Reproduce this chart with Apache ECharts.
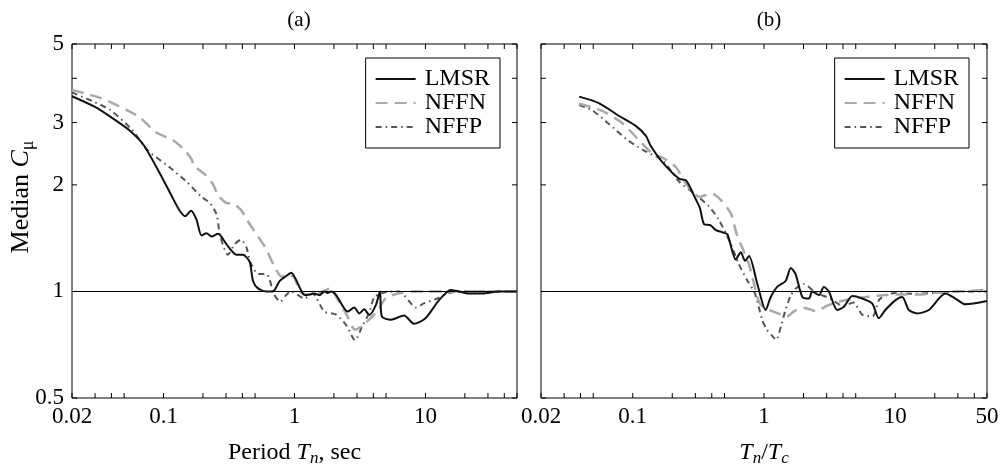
<!DOCTYPE html>
<html><head><meta charset="utf-8">
<script src="https://cdn.jsdelivr.net/npm/echarts@6/dist/echarts.min.js"></script>
<style>html,body{margin:0;padding:0;background:#fff}#c{width:1006px;height:472px}</style>
</head><body><div id="c"></div>
<script>
const FONT = '"Liberation Serif","Times New Roman",serif';
const seriesNames = ['LMSR', 'NFFN', 'NFFP'];
const panelTitles = ['(a)', '(b)'];
const X_MIN = 0.02, X_MAX = 50, Y_MIN = 0.5, Y_MAX = 5, REF_VALUE = 1;
const xTickValues = [0.02, 0.03, 0.04, 0.05, 0.1, 0.2, 0.3, 0.4, 0.5, 1, 2, 3, 4, 5, 10, 20, 30, 40, 50];
const yTickValues = [0.5, 1, 2, 3, 4, 5];
const xLabelsA = ['0.02', '0.1', '1', '10'];
const xLabelValuesA = [0.02, 0.1, 1, 10];
const xLabelsB = ['0.02', '0.1', '1', '10', '50'];
const xLabelValuesB = [0.02, 0.1, 1, 10, 50];
const yLabels = ['0.5', '1', '2', '3', '5'];
const yLabelValues = [0.5, 1, 2, 3, 5];

// Panel (a): period Tn (sec)
const lmsrA_x = [0.02, 0.03, 0.04, 0.055, 0.07, 0.094, 0.119, 0.133, 0.146, 0.162, 0.178, 0.195, 0.213, 0.232, 0.261, 0.302, 0.36, 0.404, 0.455, 0.482, 0.526, 0.609, 0.684, 0.769, 0.85, 0.944, 1.09, 1.16, 1.23, 1.42, 1.55, 1.69, 1.79, 1.90, 2.08, 2.55, 2.86, 3.12, 3.41, 3.72, 4.18, 4.49, 4.65, 5.45, 6.87, 8.18, 10.0, 12.7, 15.6, 18.0, 21.4, 27.1, 36.5, 50];
const lmsrA_y = [3.56, 3.32, 3.10, 2.85, 2.60, 2.15, 1.82, 1.69, 1.63, 1.69, 1.60, 1.44, 1.46, 1.43, 1.455, 1.36, 1.27, 1.27, 1.21, 1.07, 1.02, 1.0, 1.0, 1.07, 1.10, 1.13, 1.03, 0.986, 0.976, 0.986, 0.976, 1.0, 0.99, 1.0, 0.976, 0.877, 0.901, 0.867, 0.89, 0.858, 0.915, 1.0, 0.849, 0.832, 0.855, 0.81, 0.84, 0.945, 1.01, 1.0, 0.986, 0.986, 1.0, 1.0];
const nffnA_x = [0.02, 0.033, 0.052, 0.066, 0.088, 0.119, 0.141, 0.163, 0.17, 0.21, 0.24, 0.26, 0.30, 0.34, 0.39, 0.43, 0.5, 0.6, 0.7, 0.8, 0.9, 1.0, 1.1, 1.2, 1.5, 1.9, 2.1, 2.5, 2.9, 3.3, 3.8, 4.3, 5.0, 6.5, 8, 10, 15, 20, 30, 50];
const nffnA_y = [3.71, 3.52, 3.26, 3.10, 2.81, 2.67, 2.53, 2.37, 2.27, 2.13, 2.0, 1.87, 1.78, 1.77, 1.70, 1.60, 1.47, 1.33, 1.18, 1.10, 1.12, 1.09, 1.0, 0.98, 0.985, 1.02, 0.96, 0.86, 0.78, 0.80, 0.84, 0.88, 0.96, 0.99, 1.0, 1.0, 1.0, 1.0, 1.0, 1.0];
const nffpA_x = [0.02, 0.029, 0.039, 0.057, 0.076, 0.11, 0.15, 0.195, 0.225, 0.254, 0.27, 0.31, 0.35, 0.39, 0.43, 0.46, 0.53, 0.61, 0.7, 0.78, 0.85, 0.94, 1.05, 1.19, 1.37, 1.69, 2.08, 2.5, 2.9, 3.3, 3.7, 4.1, 5.3, 6.3, 8.5, 9.7, 12.3, 15, 20, 30, 50];
const nffpA_y = [3.65, 3.44, 3.26, 2.87, 2.5, 2.25, 2.04, 1.85, 1.78, 1.65, 1.44, 1.27, 1.36, 1.40, 1.33, 1.21, 1.12, 1.12, 0.98, 0.935, 0.97, 1.0, 0.98, 0.955, 0.986, 0.877, 0.86, 0.80, 0.728, 0.80, 0.867, 0.965, 1.0, 1.0, 0.90, 0.925, 0.955, 0.99, 1.0, 1.0, 1.0];

// Panel (b): Tn / Tc
const lmsrB_x = [0.039, 0.0556, 0.0788, 0.106, 0.126, 0.137, 0.168, 0.226, 0.254, 0.277, 0.30, 0.325, 0.349, 0.39, 0.43, 0.48, 0.526, 0.609, 0.665, 0.717, 0.769, 0.89, 1.03, 1.12, 1.26, 1.46, 1.60, 1.74, 1.96, 2.20, 2.33, 2.62, 2.86, 3.12, 3.61, 4.06, 4.70, 5.6, 6.67, 7.5, 8.4, 10.05, 11.3, 12.7, 14.7, 18.0, 24.1, 28.7, 34.3, 50];
const lmsrB_y = [3.55, 3.40, 3.13, 2.93, 2.75, 2.58, 2.32, 2.08, 2.06, 1.95, 1.83, 1.72, 1.55, 1.54, 1.49, 1.47, 1.45, 1.23, 1.29, 1.22, 1.26, 1.05, 0.886, 0.96, 1.03, 1.07, 1.165, 1.12, 0.965, 0.955, 1.0, 0.976, 1.03, 1.0, 0.886, 0.905, 0.97, 0.955, 0.925, 0.84, 0.886, 0.945, 0.965, 0.886, 0.867, 0.886, 0.986, 0.955, 0.92, 0.94];
const nffnB_x = [0.039, 0.059, 0.083, 0.112, 0.141, 0.168, 0.212, 0.254, 0.32, 0.40, 0.47, 0.56, 0.62, 0.70, 0.77, 0.84, 0.92, 1.0, 1.15, 1.35, 1.5, 1.7, 2.0, 2.5, 3.0, 3.5, 4.5, 6, 8, 10, 15, 20, 30, 50];
const nffnB_y = [3.39, 3.23, 2.99, 2.67, 2.45, 2.39, 2.25, 2.02, 1.85, 1.89, 1.81, 1.66, 1.45, 1.30, 1.19, 1.05, 0.93, 0.90, 0.88, 0.86, 0.85, 0.88, 0.90, 0.88, 0.91, 0.93, 0.95, 0.965, 0.975, 0.98, 0.98, 0.99, 1.0, 1.01];
const nffpB_x = [0.039, 0.049, 0.066, 0.091, 0.122, 0.17, 0.226, 0.294, 0.38, 0.45, 0.55, 0.64, 0.75, 0.85, 0.97, 1.05, 1.15, 1.24, 1.35, 1.45, 1.6, 1.75, 2.0, 2.5, 3.2, 4.0, 4.8, 5.6, 6.7, 7.6, 10, 13, 20, 30, 50];
const nffpB_y = [3.36, 3.25, 2.97, 2.68, 2.50, 2.34, 2.04, 1.89, 1.74, 1.60, 1.38, 1.20, 1.07, 0.99, 0.83, 0.78, 0.75, 0.73, 0.80, 0.88, 0.975, 1.02, 1.05, 0.99, 0.955, 0.91, 0.93, 0.86, 0.85, 0.95, 0.99, 0.985, 0.99, 1.0, 1.0];

const pair = (xs, ys) => xs.map((x, i) => [x, ys[i]]);
const TICK = 5;
const LABEL_FONT = '23px ' + FONT;

const styles = [
  { color: '#111111', width: 2, type: 'solid' },
  { color: '#a9a9a9', width: 2.5, type: [12, 7] },
  { color: '#555555', width: 2, type: [6, 4, 1.5, 4] }
];

function lineSeries(name, data, idx, styleIdx) {
  const s = styles[styleIdx];
  return {
    name: name, type: 'line', xAxisIndex: idx, yAxisIndex: idx,
    data: data, symbol: 'circle', symbolSize: 0, showSymbol: false, smooth: 0.25, z: 3 + (2 - styleIdx),
    lineStyle: { color: s.color, width: s.width, type: s.type },
    itemStyle: { color: s.color }
  };
}

function tickSeries(idx, xLabelVals, xLabelTxt, withY) {
  return [{
    type: 'custom', xAxisIndex: idx, yAxisIndex: idx, clip: false, silent: true, z: 1,
    data: xTickValues.map(v => [v, Y_MIN]),
    renderItem: function (params, api) {
      const v = api.value(0);
      const b = api.coord([v, Y_MIN]);
      const t = api.coord([v, Y_MAX]);
      return { type: 'group', children: [
        { type: 'line', shape: { x1: b[0], y1: b[1], x2: b[0], y2: b[1] - TICK }, style: { stroke: '#000', lineWidth: 1 } },
        { type: 'line', shape: { x1: t[0], y1: t[1], x2: t[0], y2: t[1] + TICK }, style: { stroke: '#000', lineWidth: 1 } }
      ] };
    },
    markLine: {
      silent: true, symbol: 'none', label: { show: false },
      lineStyle: { color: '#000', width: 1, type: 'solid' },
      data: [{ yAxis: REF_VALUE }]
    }
  }, {
    type: 'custom', xAxisIndex: idx, yAxisIndex: idx, clip: false, silent: true, z: 1,
    data: yTickValues.map(v => [X_MIN, v]),
    renderItem: function (params, api) {
      const v = api.value(1);
      const l = api.coord([X_MIN, v]);
      const r = api.coord([X_MAX, v]);
      return { type: 'group', children: [
        { type: 'line', shape: { x1: l[0], y1: l[1], x2: l[0] + TICK, y2: l[1] }, style: { stroke: '#000', lineWidth: 1 } },
        { type: 'line', shape: { x1: r[0], y1: r[1], x2: r[0] - TICK, y2: r[1] }, style: { stroke: '#000', lineWidth: 1 } }
      ] };
    }
  }, {
    type: 'custom', xAxisIndex: idx, yAxisIndex: idx, clip: false, silent: true, z: 1,
    data: xLabelVals.map(v => [v, Y_MIN]),
    renderItem: function (params, api) {
      const b = api.coord([api.value(0), Y_MIN]);
      return { type: 'text', x: b[0], y: b[1] + 7,
        style: { text: xLabelTxt[params.dataIndex], font: LABEL_FONT, fill: '#000', align: 'center', verticalAlign: 'top' } };
    }
  }].concat(withY ? [{
    type: 'custom', xAxisIndex: idx, yAxisIndex: idx, clip: false, silent: true, z: 1,
    data: yLabelValues.map(v => [X_MIN, v]),
    renderItem: function (params, api) {
      const p = api.coord([X_MIN, api.value(1)]);
      return { type: 'text', x: p[0] - 8, y: p[1],
        style: { text: yLabels[params.dataIndex], font: LABEL_FONT, fill: '#000', align: 'right', verticalAlign: 'middle' } };
    }
  }] : []);
}

function makeRich(size) {
  return {
    n: { fontFamily: FONT, fontSize: size, color: '#000', lineHeight: size + 5 },
    i: { fontFamily: FONT, fontSize: size, color: '#000', fontStyle: 'italic', lineHeight: size + 5 },
    s: { fontFamily: FONT, fontSize: Math.round(size * 0.7), color: '#000', fontStyle: 'italic', lineHeight: Math.round(size * 0.65), verticalAlign: 'bottom' },
    u: { fontFamily: FONT, fontSize: Math.round(size * 0.7), color: '#000', lineHeight: Math.round(size * 0.65), verticalAlign: 'bottom' }
  };
}

function xAxisCfg(idx, name) {
  return {
    type: 'log', logBase: 10, gridIndex: idx, min: X_MIN, max: X_MAX,
    axisLine: { show: false }, axisTick: { show: false }, axisLabel: { show: false },
    splitLine: { show: false }, minorTick: { show: false },
    name: name, nameLocation: 'middle', nameGap: 40,
    nameTextStyle: { fontFamily: FONT, fontSize: 24, color: '#000', rich: makeRich(24) }
  };
}
function yAxisCfg(idx, name) {
  return {
    type: 'log', logBase: 10, gridIndex: idx, min: Y_MIN, max: Y_MAX,
    axisLine: { show: false }, axisTick: { show: false }, axisLabel: { show: false },
    splitLine: { show: false },
    name: name, nameLocation: 'middle', nameGap: 35,
    nameTextStyle: { fontFamily: FONT, fontSize: 26, color: '#000', rich: makeRich(26), padding: [0, 0, 0, 48] }
  };
}

function legendCfg(right) {
  return {
    data: seriesNames, orient: 'vertical', right: right, top: 58,
    itemWidth: 40, itemHeight: 12, itemGap: 0,
    borderColor: '#000', borderWidth: 1, borderRadius: 0, padding: [9, 10, 9, 9],
    backgroundColor: '#fff',
    itemStyle: { opacity: 0 },
    textStyle: { fontFamily: FONT, fontSize: 24, color: '#000', padding: [0, 0, 0, 4] },
    selectedMode: false
  };
}

const chart = echarts.init(document.getElementById('c'));
chart.setOption({
  animation: false,
  backgroundColor: '#fff',
  title: [
    { text: panelTitles[0], left: 294, top: 5, textAlign: 'center', textStyle: { fontFamily: FONT, fontSize: 21, fontWeight: 'normal', color: '#000' } },
    { text: panelTitles[1], left: 764, top: 5, textAlign: 'center', textStyle: { fontFamily: FONT, fontSize: 21, fontWeight: 'normal', color: '#000' } }
  ],
  legend: [legendCfg(506), legendCfg(37)],
  grid: [
    { left: 72, top: 44, width: 445, height: 358, show: true, borderColor: '#000', borderWidth: 1, backgroundColor: 'transparent' },
    { left: 541, top: 44, width: 446, height: 358, show: true, borderColor: '#000', borderWidth: 1, backgroundColor: 'transparent' }
  ],
  xAxis: [
    xAxisCfg(0, '{n|Period }{i|T}{s|n}{n|, sec}'),
    xAxisCfg(1, '{i|T}{s|n}{n|/}{i|T}{s|c}')
  ],
  yAxis: [
    yAxisCfg(0, '{n|Median }{i|C}{u|μ}'),
    yAxisCfg(1, '')
  ],
  series: [].concat(
    tickSeries(0, xLabelValuesA, xLabelsA, true),
    tickSeries(1, xLabelValuesB, xLabelsB, false),
    [
      lineSeries(seriesNames[2], pair(nffpA_x, nffpA_y), 0, 2),
      lineSeries(seriesNames[1], pair(nffnA_x, nffnA_y), 0, 1),
      lineSeries(seriesNames[0], pair(lmsrA_x, lmsrA_y), 0, 0),
      lineSeries(seriesNames[2], pair(nffpB_x, nffpB_y), 1, 2),
      lineSeries(seriesNames[1], pair(nffnB_x, nffnB_y), 1, 1),
      lineSeries(seriesNames[0], pair(lmsrB_x, lmsrB_y), 1, 0)
    ]
  )
});
</script></body></html>
